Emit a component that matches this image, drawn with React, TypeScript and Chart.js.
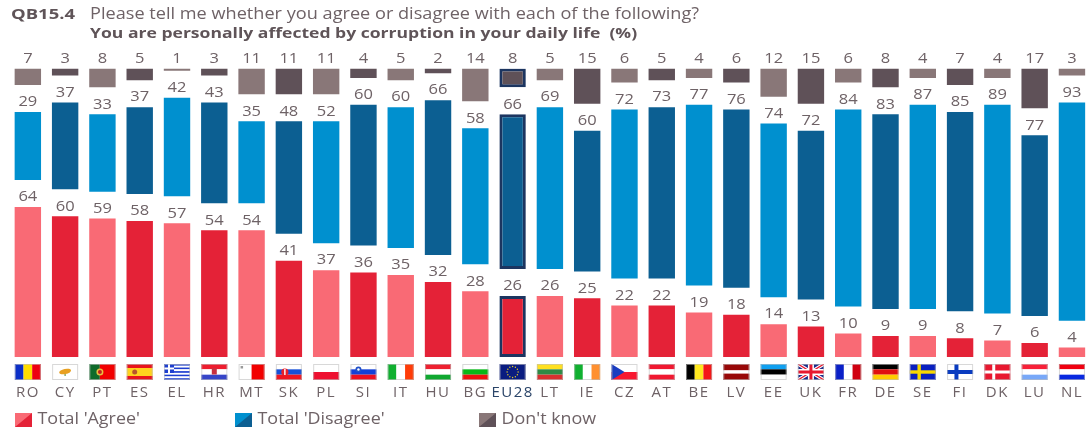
import React, { useEffect, useRef } from "react";
import { Chart, registerables } from "chart.js";

Chart.register(...registerables);

const countries = ["RO","CY","PT","ES","EL","HR","MT","SK","PL","SI","IT","HU","BG","EU28","LT","IE","CZ","AT","BE","LV","EE","UK","FR","DE","SE","FI","DK","LU","NL"];
const agree = [64,60,59,58,57,54,54,41,37,36,35,32,28,26,26,25,22,22,19,18,14,13,10,9,9,8,7,6,4];
const disagree = [29,37,33,37,42,43,35,48,52,60,60,66,58,66,69,60,72,73,77,76,74,72,84,83,87,85,89,77,93];
const dontKnow = [7,3,8,5,1,3,11,11,11,4,5,2,14,8,5,15,6,5,4,6,12,15,6,8,4,7,4,17,3];

const seriesNames = ["Total 'Agree'", "Total 'Disagree'", "Don't know"];
const lightColors = ["#F96A75", "#0090CF", "#897778"];
const darkColors = ["#E42237", "#0C5F92", "#5F5158"];
const legendX = [15, 235, 479];
const questionCode = "QB15.4";
const questionLine = "Please tell me whether you agree or disagree with each of the following?";
const statementLine = "You are personally affected by corruption in your daily life  (%)";
const EU = "EU28";
const GAP = 11.5;
const TEXT = "#6E6266";
const FONT = "'Open Sans', sans-serif";

type Flag = { h?: string[]; v?: string[]; w?: number[] };
const stripes: Record<string, Flag> = {
  RO: { v: ["#0B2FC8", "#FFDD00", "#EE0010"] },
  CY: { h: ["#FFFFFF"] },
  PT: { v: ["#0F6B2B", "#F20000"], w: [2, 3] },
  ES: { h: ["#E8141C", "#FFD21E", "#FFD21E", "#E8141C"] },
  EL: { h: ["#1E3FD0", "#FFFFFF", "#1E3FD0", "#FFFFFF", "#1E3FD0", "#FFFFFF", "#1E3FD0", "#FFFFFF", "#1E3FD0"] },
  HR: { h: ["#EE1C2E", "#FFFFFF", "#3645C8"] },
  MT: { v: ["#FFFFFF", "#F20000"] },
  SK: { h: ["#FFFFFF", "#1550D8", "#EE1622"] },
  PL: { h: ["#FFFFFF", "#EE1030"] },
  SI: { h: ["#FFFFFF", "#1440D8", "#EE1020"] },
  IT: { v: ["#10B030", "#FFFFFF", "#FF3C08"] },
  HU: { h: ["#EE2030", "#FFFFFF", "#10A830"] },
  BG: { h: ["#FFFFFF", "#08B818", "#EE1010"] },
  EU: { h: ["#0A1C80"] },
  LT: { h: ["#FFE020", "#2E8A45", "#D83030"] },
  IE: { v: ["#10B030", "#FFFFFF", "#FF9030"] },
  CZ: { h: ["#FFFFFF", "#F81830"] },
  AT: { h: ["#F01830", "#FFFFFF", "#F01830"] },
  BE: { v: ["#000000", "#FFE820", "#F41818"] },
  LV: { h: ["#980808", "#FFFFFF", "#980808"], w: [2, 1, 2] },
  EE: { h: ["#10A0F0", "#000000", "#FFFFFF"] },
  UK: { h: ["#1A2B8A"] },
  FR: { v: ["#0A20C8", "#FFFFFF", "#D00010"] },
  DE: { h: ["#000000", "#E01010", "#FFCC00"] },
  SE: { h: ["#0A20C0"] },
  FI: { h: ["#FFFFFF"] },
  DK: { h: ["#E81830"] },
  LU: { h: ["#F82038", "#FFFFFF", "#78A8F8"] },
  NL: { h: ["#F00010", "#FFFFFF", "#0828E0"] },
};

function drawStripes(ctx: CanvasRenderingContext2D, f: Flag, x: number, y: number, w: number, h: number) {
  const cols = f.h || f.v || [];
  const weights = f.w || cols.map(() => 1);
  const total = weights.reduce((a, b) => a + b, 0);
  let off = 0;
  cols.forEach((c, i) => {
    ctx.fillStyle = c;
    const share = weights[i] / total;
    if (f.h) ctx.fillRect(x, y + off * h, w, share * h);
    else ctx.fillRect(x + off * w, y, share * w, h);
    off += share;
  });
}

function cross(ctx: CanvasRenderingContext2D, x: number, y: number, w: number, h: number, c: string, t: number) {
  ctx.fillStyle = c;
  ctx.fillRect(x + w * 0.36 - t / 2, y, t, h);
  ctx.fillRect(x, y + h / 2 - t / 2, w, t);
}

function drawFlag(ctx: CanvasRenderingContext2D, code: string, x: number, y: number, w: number, h: number) {
  const key = code === EU ? "EU" : code;
  drawStripes(ctx, stripes[key], x, y, w, h);
  const dot = (cx: number, cy: number, r: number, c: string) => {
    ctx.fillStyle = c;
    ctx.beginPath();
    ctx.arc(cx, cy, r, 0, Math.PI * 2);
    ctx.fill();
  };
  if (key === "CY") { ctx.fillStyle = "#E8A020"; ctx.beginPath(); ctx.ellipse(x + 13, y + 7.5, 6, 2.6, -0.2, 0, 7); ctx.fill(); dot(x + 13, y + 11, 1, "#8AA860"); }
  if (key === "PT") { dot(x + 10.5, y + 8, 3.5, "#E8C040"); dot(x + 10.5, y + 8, 2, "#C02020"); }
  if (key === "ES") { dot(x + 8, y + 8, 2.5, "#B8552A"); }
  if (key === "EL") { ctx.fillStyle = "#1E3FD0"; ctx.fillRect(x, y, 10, 9); ctx.fillStyle = "#FFF"; ctx.fillRect(x + 4, y, 2, 9); ctx.fillRect(x, y + 3.5, 10, 2); }
  if (key === "HR") { ctx.fillStyle = "#C83040"; ctx.fillRect(x + 10.5, y + 4, 5, 6.5); }
  if (key === "MT") { ctx.fillStyle = "#999"; ctx.fillRect(x + 2, y + 2, 2.5, 2.5); }
  if (key === "SK") { dot(x + 9, y + 8, 3.6, "#E8202A"); ctx.fillStyle = "#FFF"; ctx.fillRect(x + 8.3, y + 5, 1.4, 6); }
  if (key === "SI") { dot(x + 8, y + 5.5, 3, "#2050C8"); dot(x + 8, y + 5.5, 1.2, "#FFF"); }
  if (key === "EU") {
    for (let i = 0; i < 12; i++) {
      const a = (i * Math.PI) / 6;
      dot(x + 13 + Math.cos(a) * 5.5, y + 8 + Math.sin(a) * 5.5, 0.7, "#E8D020");
    }
  }
  if (key === "CZ") { ctx.fillStyle = "#1A3CC0"; ctx.beginPath(); ctx.moveTo(x, y); ctx.lineTo(x + 13, y + h / 2); ctx.lineTo(x, y + h); ctx.fill(); }
  if (key === "UK") {
    ctx.save();
    ctx.beginPath(); ctx.rect(x, y, w, h); ctx.clip();
    ctx.strokeStyle = "#FFF"; ctx.lineWidth = 3.5;
    ctx.beginPath(); ctx.moveTo(x, y); ctx.lineTo(x + w, y + h); ctx.moveTo(x + w, y); ctx.lineTo(x, y + h); ctx.stroke();
    ctx.strokeStyle = "#E81830"; ctx.lineWidth = 1.3; ctx.stroke();
    ctx.fillStyle = "#FFF"; ctx.fillRect(x + 10, y, 6, h); ctx.fillRect(x, y + 5, w, 6);
    ctx.fillStyle = "#E81830"; ctx.fillRect(x + 11.5, y, 3, h); ctx.fillRect(x, y + 6.5, w, 3);
    ctx.restore();
  }
  if (key === "SE") cross(ctx, x, y, w, h, "#F8D800", 3.4);
  if (key === "FI") cross(ctx, x, y, w, h, "#0A3CC0", 4);
  if (key === "DK") cross(ctx, x, y, w, h, "#FFFFFF", 3);
  ctx.strokeStyle = "rgba(190,190,190,0.6)";
  ctx.lineWidth = 1;
  ctx.strokeRect(x + 0.5, y + 0.5, w - 1, h - 1);
}

function wideText(ctx: CanvasRenderingContext2D, text: string, x: number, y: number, sx: number) {
  ctx.save();
  ctx.translate(x, y);
  ctx.scale(sx, 1);
  ctx.fillText(text, 0, 0);
  ctx.restore();
}

const overlay = {
  id: "overlay",
  beforeDraw(chart: any) {
    (chart.ctx as any).letterSpacing = "1.5px";
  },
  afterDraw(chart: any) {
    const ctx: CanvasRenderingContext2D = chart.ctx;
    const xs = chart.scales.x;
    ctx.save();
    (ctx as any).letterSpacing = "0px";
    ctx.textBaseline = "middle";

    // value labels
    ctx.textAlign = "center";
    ctx.fillStyle = TEXT;
    ctx.font = `15px ${FONT}`;
    [agree, disagree, dontKnow].forEach((vals, d) => {
      const meta = chart.getDatasetMeta(d);
      vals.forEach((v, i) => {
        const el = meta.data[i];
        wideText(ctx, String(v), el.x, el.y - 10, 1.1);
      });
    });

    // flags
    countries.forEach((c, i) => {
      drawFlag(ctx, c, xs.getPixelForValue(i) - 13, 364, 26, 16);
    });

    // heading
    ctx.textAlign = "left";
    ctx.fillStyle = "#5F5458";
    ctx.font = `bold 15px ${FONT}`;
    wideText(ctx, questionCode, 11, 15, 1.23);
    ctx.fillStyle = TEXT;
    ctx.font = `15.5px ${FONT}`;
    wideText(ctx, questionLine, 90, 15, 1.17);
    ctx.fillStyle = "#5F5458";
    ctx.font = `bold 15px ${FONT}`;
    wideText(ctx, statementLine, 90, 34, 1.17);

    // legend
    seriesNames.forEach((name, i) => {
      const x = legendX[i];
      ctx.fillStyle = lightColors[i];
      ctx.fillRect(x, 413, 17, 14);
      ctx.fillStyle = darkColors[i];
      ctx.beginPath();
      ctx.moveTo(x + 17, 413); ctx.lineTo(x + 17, 427); ctx.lineTo(x, 427);
      ctx.closePath(); ctx.fill();
      ctx.fillStyle = TEXT;
      ctx.font = `15.5px ${FONT}`;
      wideText(ctx, name, x + 22.5, 420, 1.155);
    });
    ctx.restore();
  },
};

export default function App() {
  const ref = useRef<HTMLCanvasElement>(null);
  useEffect(() => {
    const shade = (d: number) => countries.map((_, i) => (i % 2 === 0 ? lightColors[d] : darkColors[d]));
    const edge = countries.map((c) => (c === EU ? "#1C3560" : "rgba(255,255,255,0)"));
    const edgeW = countries.map((c) => (c === EU ? 3 : 0));
    const common = { borderColor: edge, borderWidth: edgeW, borderSkipped: false, grouped: false, barPercentage: 0.708, categoryPercentage: 1 };
    const chart = new Chart(ref.current!, {
      type: "bar",
      data: {
        labels: countries,
        datasets: [
          { label: seriesNames[0], data: agree.map((a) => [0, a]), backgroundColor: shade(0), ...common },
          { label: seriesNames[1], data: disagree.map((v, i) => [agree[i] + GAP, agree[i] + GAP + v]), backgroundColor: shade(1), ...common },
          { label: seriesNames[2], data: dontKnow.map((v, i) => [agree[i] + disagree[i] + 2 * GAP, agree[i] + disagree[i] + 2 * GAP + v]), backgroundColor: shade(2), ...common },
        ] as any,
      },
      options: {
        animation: false,
        responsive: false,
        layout: { padding: { left: 9.2, right: 9.4, top: 68.5, bottom: 0 } },
        plugins: { legend: { display: false }, tooltip: { enabled: false } },
        scales: {
          x: {
            grid: { display: false, drawTicks: false },
            border: { display: false },
            afterFit: (s: any) => { s.height = 75; s.paddingLeft = 0; s.paddingRight = 0; },
            ticks: {
              autoSkip: false, maxRotation: 0, padding: 27,
              font: { family: "'Open Sans', sans-serif", size: 15 },
              color: (c: any) => (countries[c.index] === EU ? "#2A4468" : TEXT),
            },
          },
          y: { display: false, min: 0, max: 123 },
        },
      } as any,
      plugins: [overlay],
    });
    return () => chart.destroy();
  }, []);
  return (
    <div style={{ position: "fixed", left: 0, top: 0, width: 1089, height: 432, overflow: "hidden", background: "#fff" }}>
      <canvas ref={ref} width={1100} height={432} style={{ display: "block", filter: "blur(0.5px)" }} />
    </div>
  );
}
